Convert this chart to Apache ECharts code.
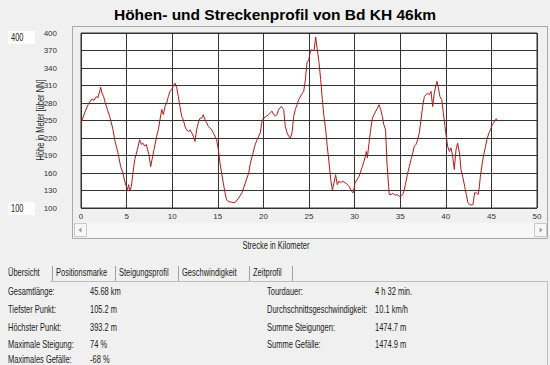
<!DOCTYPE html>
<html>
<head>
<meta charset="utf-8">
<script src="https://cdn.jsdelivr.net/npm/echarts@6/dist/echarts.min.js"></script>
<style>
html,body{margin:0;padding:0;background:#f0f0f0;}
#c{width:550px;height:365px;}
</style>
</head>
<body>
<div id="c"></div>
<script>
// ---- data ----
var titleText = 'Höhen- und Streckenprofil von Bd KH 46km';
var xAxisName = 'Strecke in Kilometer';
var yAxisName = 'Höhe in Meter [über NN]';
var xTicks = [0, 5, 10, 15, 20, 25, 30, 35, 40, 45, 50];
var yTicks = [100, 130, 160, 190, 220, 250, 280, 310, 340, 370, 400];
var rangeBoxes = ['400', '100'];

var distanceKm = [0,0.4,0.77,1.13,1.43,1.68,1.86,2.05,2.16,2.3,2.48,2.67,2.89,3.14,3.33,3.51,3.69,4.06,4.35,4.6,4.79,4.97,5.08,5.23,5.34,5.52,5.7,5.89,6.18,6.43,6.62,6.8,6.98,7.16,7.35,7.46,7.64,7.79,8.0,8.3,8.48,8.66,8.85,9.03,9.21,9.39,9.58,9.76,9.94,10.12,10.31,10.5,10.67,10.85,11.04,11.22,11.4,11.58,11.77,11.95,12.13,12.32,12.5,12.68,12.86,13.05,13.23,13.41,13.6,13.78,13.96,14.14,14.33,14.51,14.69,14.87,15.06,15.24,15.42,15.6,15.79,15.97,16.15,16.5,16.88,17.29,17.65,18.02,18.39,18.57,18.82,19.04,19.3,19.66,19.85,20.03,20.2,20.58,20.76,20.94,21.13,21.3,21.49,21.67,21.97,22.22,22.4,22.59,22.77,22.95,23.14,23.32,23.5,23.69,23.87,24.16,24.42,24.6,24.78,24.97,25.18,25.55,25.73,25.91,26.1,26.28,26.46,26.64,26.83,27.0,27.2,27.38,27.56,27.74,27.92,28.1,28.29,28.47,28.65,29.02,29.39,29.75,29.86,30.04,30.48,30.85,31.2,31.28,31.4,31.58,31.76,31.95,32.13,32.5,32.68,32.86,33.04,33.2,33.4,33.55,33.73,33.8,33.99,34.17,34.36,34.54,34.72,34.9,35.09,35.27,35.45,35.64,35.82,36.0,36.18,36.37,36.55,36.73,36.92,37.1,37.28,37.46,37.65,37.83,38.0,38.2,38.38,38.56,38.74,38.93,39.04,39.18,39.36,39.55,39.73,39.91,40.1,40.2,40.39,40.57,40.75,40.93,41.12,41.3,41.5,41.67,41.85,42.07,42.25,42.43,42.6,42.8,42.98,43.16,43.35,43.53,43.64,43.79,44.0,44.19,44.37,44.5,44.74,44.9,45.1,45.25,45.43,45.54,45.68];
var heightM = [246,263,277,286,285,291,289,300,307,297,291,280,269,257,246,234,217,194,171,160,146,137,131,140,129,137,160,183,200,217,209,211,206,209,197,191,171,183,200,223,234,251,269,260,274,280,291,300,303,309,314,306,291,274,257,251,240,234,231,234,229,223,214,234,246,254,254,260,251,246,240,237,234,229,223,217,200,177,160,143,126,114,111,110,109,117,126,143,160,177,191,206,217,229,249,254,256,260,263,266,260,258,260,269,274,269,240,229,223,220,229,257,269,277,286,294,300,320,349,354,371,370,393,371,349,320,286,257,234,206,177,149,131,143,157,140,146,143,146,143,137,127,126,143,154,171,189,197,186,211,234,254,260,271,277,269,257,243,234,177,137,123,123,125,123,122,123,120,120,123,131,146,160,171,183,194,206,209,217,229,251,274,291,294,297,294,300,274,297,311,317,306,291,286,263,240,217,206,197,203,189,166,200,211,194,166,154,137,123,109,106,105,106,126,126,123,131,154,177,194,206,217,229,234,243,246,251,253,249];

var tabNames = ['Übersicht', 'Positionsmarke', 'Steigungsprofil', 'Geschwindigkeit', 'Zeitprofil'];
var leftLabels = ['Gesamtlänge:', 'Tiefster Punkt:', 'Höchster Punkt:', 'Maximale Steigung:', 'Maximales Gefälle:'];
var leftValues = ['45.68 km', '105.2 m', '393.2 m', '74 %', '-68 %'];
var rightLabels = ['Tourdauer:', 'Durchschnittsgeschwindigkeit:', 'Summe Steigungen:', 'Summe Gefälle:'];
var rightValues = ['4 h 32 min.', '10.1 km/h', '1474.7 m', '1474.9 m'];

// ---- build ----
var FONT = '"Liberation Sans", Arial, sans-serif';
var TXT = '#222';
var SX = 0.75; // the reference uses a narrow UI font
var lineData = distanceKm.map(function (d, i) { return [d, heightM[i]]; });

function label(x, y, text, opts) {
  opts = opts || {};
  return {
    type: 'text', x: x, y: y, scaleX: SX, rotation: opts.rotation || 0, silent: true,
    style: { text: text, font: '10px ' + FONT, fill: TXT, textAlign: opts.align || 'left', textVerticalAlign: 'middle' }
  };
}

var chart = echarts.init(document.getElementById('c'), null, { renderer: 'svg' });

var g = [];
// chart panel frame
g.push({ type: 'rect', shape: { x: 72.5, y: 26.5, width: 475, height: 212 }, style: { fill: 'none', stroke: '#a8a8a8', lineWidth: 1 }, silent: true });
// scrollbar
g.push({ type: 'rect', shape: { x: 74, y: 223, width: 473, height: 14 }, style: { fill: '#f7f7f7', stroke: null }, silent: true });
g.push({ type: 'rect', shape: { x: 74.5, y: 223.5, width: 12, height: 13 }, style: { fill: '#f7f7f7', stroke: '#c8c8c8' }, silent: true });
g.push({ type: 'rect', shape: { x: 534.5, y: 223.5, width: 12, height: 13 }, style: { fill: '#f7f7f7', stroke: '#c8c8c8' }, silent: true });
g.push({ type: 'polygon', shape: { points: [[78.5, 230], [81.5, 227.5], [81.5, 232.5]] }, style: { fill: '#9a9a9a' }, silent: true });
g.push({ type: 'polygon', shape: { points: [[542.5, 230], [539.5, 227.5], [539.5, 232.5]] }, style: { fill: '#9a9a9a' }, silent: true });
// range input boxes
[[31, rangeBoxes[0]], [202, rangeBoxes[1]]].forEach(function (b) {
  g.push({ type: 'rect', shape: { x: 8, y: b[0], width: 27, height: 13 }, style: { fill: '#ffffff', stroke: null }, silent: true });
  g.push(label(11, b[0] + 6.5, b[1]));
});
// axis names
g.push(label(40.5, 120, yAxisName, { align: 'center', rotation: Math.PI / 2 }));
g.push(label(276, 246, xAxisName, { align: 'center' }));

// tab strip
var tabX = [4, 52, 115, 178, 249, 292];
g.push({ type: 'polyline', shape: { points: [[50, 281.5], [547.5, 281.5], [547.5, 365]] }, style: { stroke: '#bdbdbd', lineWidth: 1, fill: null }, silent: true });
for (var t = 0; t < tabNames.length; t++) {
  g.push(label(tabX[t] + 4, 273, tabNames[t]));
  g.push({ type: 'line', shape: { x1: tabX[t + 1] + 0.5, y1: 266, x2: tabX[t + 1] + 0.5, y2: 281 }, style: { stroke: '#a0a0a0', lineWidth: 1 }, silent: true });
}
// overview table
var rowY = [292, 310, 328, 345, 360];
leftLabels.forEach(function (l, i) {
  g.push(label(8, rowY[i], l));
  g.push(label(90, rowY[i], leftValues[i]));
});
rightLabels.forEach(function (l, i) {
  g.push(label(267, rowY[i], l));
  g.push(label(375, rowY[i], rightValues[i]));
});

chart.setOption({
  backgroundColor: '#f0f0f0',
  animation: false,
  title: {
    text: titleText, left: 'center', top: 1,
    textStyle: { fontFamily: FONT, fontWeight: 'bold', fontSize: 15.5, color: '#000' }
  },
  grid: { left: 81, top: 33, width: 456, height: 175, show: true, backgroundColor: '#ffffff', borderColor: '#333', borderWidth: 1 },
  xAxis: {
    type: 'value', min: xTicks[0], max: xTicks[xTicks.length - 1], interval: xTicks[1] - xTicks[0],
    axisLine: { show: false }, axisTick: { show: false },
    axisLabel: { margin: 4, fontSize: 8, fontFamily: FONT, color: '#333' },
    splitLine: { show: true, lineStyle: { color: '#333', width: 1 } }
  },
  yAxis: {
    type: 'value', min: yTicks[0], max: yTicks[yTicks.length - 1], interval: yTicks[1] - yTicks[0],
    axisLine: { show: false }, axisTick: { show: false },
    axisLabel: { margin: 24, fontSize: 8, fontFamily: FONT, color: '#333' },
    splitLine: { show: true, lineStyle: { color: '#333', width: 1 } }
  },
  series: [{
    type: 'line', data: lineData, showSymbol: false, smooth: false,
    lineStyle: { color: '#b01a1a', width: 1 }, silent: true
  }],
  graphic: g
});
</script>
</body>
</html>
